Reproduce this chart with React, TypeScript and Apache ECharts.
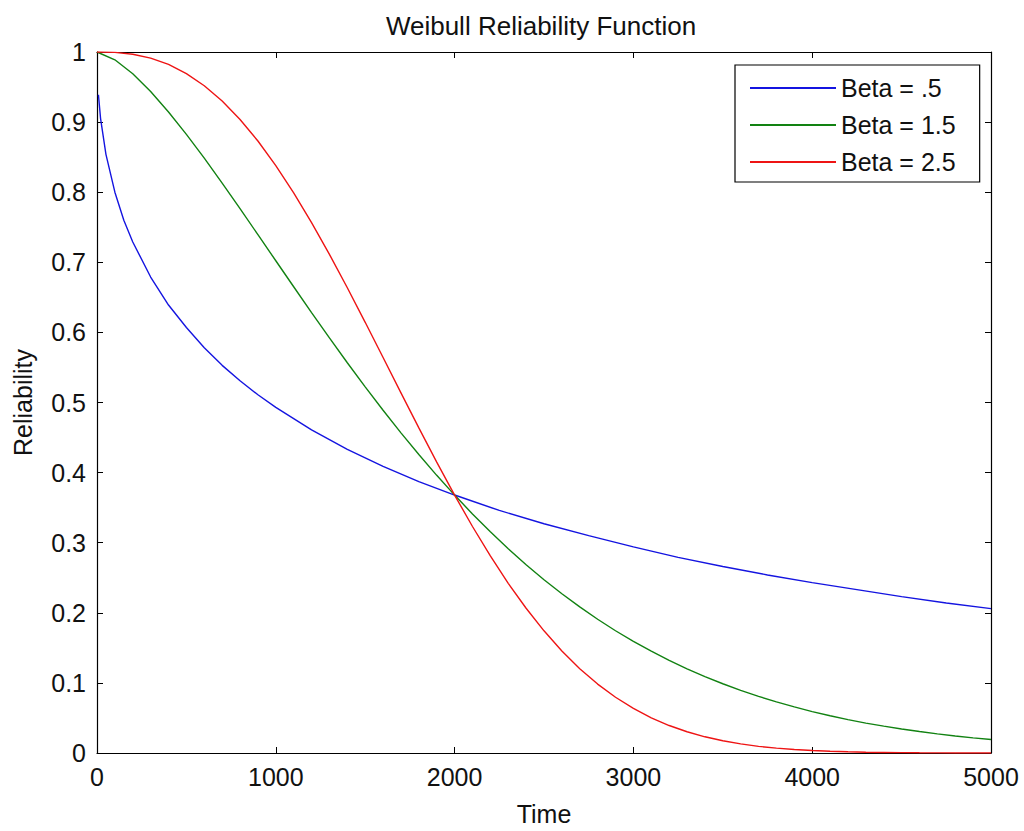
import React, { useEffect, useRef } from "react";
import * as echarts from "echarts";

const title = "Weibull Reliability Function";
const xName = "Time";
const yName = "Reliability";
const seriesNames = ["Beta = .5", "Beta = 1.5", "Beta = 2.5"];
const xTicks = [0, 1000, 2000, 3000, 4000, 5000];

const blueT = [8, 20, 50, 100, 150, 200, 300, 400, 500, 600, 700, 800, 900, 1000, 1200, 1400, 1600, 1800, 2000, 2250, 2500, 2750, 3000, 3250, 3500, 3750, 4000, 4250, 4500, 4750, 5000];
const blueR = [0.939, 0.905, 0.854, 0.8, 0.76, 0.729, 0.679, 0.639, 0.607, 0.578, 0.553, 0.531, 0.511, 0.493, 0.461, 0.433, 0.409, 0.387, 0.368, 0.346, 0.327, 0.31, 0.294, 0.279, 0.266, 0.254, 0.243, 0.233, 0.223, 0.214, 0.206];

const gridT = [0, 100, 200, 300, 400, 500, 600, 700, 800, 900, 1000, 1100, 1200, 1300, 1400, 1500, 1600, 1700, 1800, 1900, 2000, 2100, 2200, 2300, 2400, 2500, 2600, 2700, 2800, 2900, 3000, 3100, 3200, 3300, 3400, 3500, 3600, 3700, 3800, 3900, 4000, 4100, 4200, 4300, 4400, 4500, 4600, 4700, 4800, 4900, 5000];
const greenR = [1, 0.9889, 0.9689, 0.9436, 0.9144, 0.8825, 0.8485, 0.813, 0.7765, 0.7394, 0.7022, 0.6651, 0.6283, 0.5921, 0.5567, 0.5223, 0.4889, 0.4567, 0.4258, 0.3961, 0.3679, 0.341, 0.3155, 0.2914, 0.2686, 0.2472, 0.2272, 0.2084, 0.1908, 0.1744, 0.1593, 0.1452, 0.1321, 0.1201, 0.109, 0.0988, 0.0894, 0.0808, 0.0729, 0.0657, 0.0591, 0.0531, 0.0477, 0.0427, 0.0383, 0.0342, 0.0306, 0.0273, 0.0243, 0.0216, 0.0192];
const redR = [1, 0.9994, 0.9968, 0.9913, 0.9823, 0.9692, 0.9519, 0.9301, 0.9037, 0.873, 0.838, 0.7991, 0.7566, 0.7113, 0.6637, 0.6144, 0.5642, 0.5137, 0.4638, 0.4149, 0.3679, 0.3231, 0.2811, 0.2421, 0.2065, 0.1743, 0.1456, 0.1203, 0.0983, 0.0795, 0.0636, 0.0502, 0.0392, 0.0303, 0.0231, 0.0174, 0.013, 0.0095, 0.0069, 0.0049, 0.0035, 0.0024, 0.0017, 0.0011, 0.0008, 0.0005, 0.0003, 0.0002, 0.0001, 0.0001, 0.0001];

const colors = ["#1414e0", "#128212", "#ee1414"];
const FONT = "Liberation Sans";

export default function App() {
  const ref = useRef<HTMLDivElement>(null);
  useEffect(() => {
    if (!ref.current) return;
    const chart = echarts.init(ref.current, null, { renderer: "svg" });
    const pair = (xs: number[], ys: number[]) => xs.map((x, i) => [x, ys[i]]);
    const axisCommon = {
      axisLine: { show: true, onZero: false, lineStyle: { color: "#000", width: 1.2 } },
      axisTick: { show: true, inside: true, length: 6, lineStyle: { color: "#000" } },
      splitLine: { show: false },
    };
    chart.setOption({
      animation: false,
      backgroundColor: "#fff",
      title: {
        text: title,
        left: 536,
        top: 8,
        textAlign: "center",
        textStyle: { fontFamily: FONT, fontSize: 26, fontWeight: "normal", color: "#111" },
      },
      legend: {
        left: 735,
        top: 65,
        orient: "vertical",
        align: "left",
        icon: "rect",
        padding: [8, 24, 5, 15],
        itemWidth: 86,
        itemHeight: 2,
        itemGap: 7,
        borderColor: "#000",
        borderWidth: 1.2,
        borderRadius: 0,
        backgroundColor: "#fff",
        textStyle: { fontFamily: FONT, fontSize: 25, color: "#111", lineHeight: 30 },
        data: seriesNames,
      },
      grid: { left: 97, right: 33, top: 52, bottom: 74, containLabel: false },
      xAxis: [
        {
          type: "value",
          min: xTicks[0],
          max: xTicks[xTicks.length - 1],
          interval: 1000,
          name: xName,
          nameLocation: "middle",
          nameGap: 48,
          nameTextStyle: { fontFamily: FONT, fontSize: 25, color: "#111" },
          axisLabel: { fontFamily: FONT, fontSize: 25, color: "#111", margin: 11, formatter: (v: number) => String(v) },
          ...axisCommon,
        },
        {
          type: "value",
          position: "top",
          min: xTicks[0],
          max: xTicks[xTicks.length - 1],
          interval: 1000,
          axisLabel: { show: false },
          ...axisCommon,
        },
      ],
      yAxis: [
        {
          type: "value",
          min: 0,
          max: 1,
          interval: 0.1,
          name: yName,
          nameLocation: "middle",
          nameGap: 62,
          nameRotate: 90,
          nameTextStyle: { fontFamily: FONT, fontSize: 25, color: "#111" },
          axisLabel: {
            fontFamily: FONT,
            fontSize: 25,
            color: "#111",
            margin: 11,
            formatter: (v: number) => (v === 0 ? "0" : v === 1 ? "1" : String(Math.round(v * 10) / 10)),
          },
          ...axisCommon,
        },
        {
          type: "value",
          position: "right",
          min: 0,
          max: 1,
          interval: 0.1,
          axisLabel: { show: false },
          ...axisCommon,
        },
      ],
      series: [
        { name: seriesNames[0], type: "line", data: pair(blueT, blueR) },
        { name: seriesNames[1], type: "line", data: pair(gridT, greenR) },
        { name: seriesNames[2], type: "line", data: pair(gridT, redR) },
      ].map((s, i) => ({
        ...s,
        symbol: "none",
        smooth: false,
        lineStyle: { color: colors[i], width: 1.4 },
        itemStyle: { color: colors[i] },
        clip: true,
      })),
    });
    return () => chart.dispose();
  }, []);
  return <div ref={ref} style={{ position: "fixed", left: 0, top: 0, width: 1024, height: 831 }} />;
}
